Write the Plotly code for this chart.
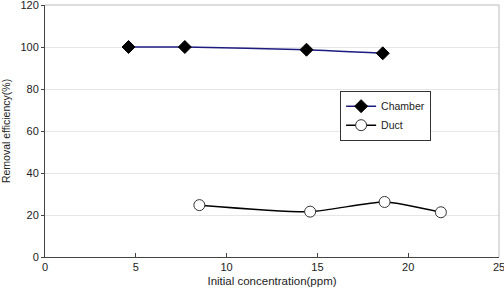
import plotly.graph_objects as go

chamber_x = [4.6, 7.7, 14.4, 18.6]
chamber_y = [100, 100, 98.7, 97.0]
duct_x = [8.5, 14.6, 18.7, 21.8]
duct_y = [24.7, 21.6, 26.2, 21.3]

x_ticks = [0, 5, 10, 15, 20, 25]
y_ticks = [0, 20, 40, 60, 80, 100, 120]

font = "Liberation Sans, Arial, sans-serif"

fig = go.Figure()
fig.add_trace(go.Scatter(
    x=chamber_x, y=chamber_y, name="Chamber", mode="lines+markers",
    line=dict(color="#1c1c80", width=1.5, shape="spline", smoothing=0.6),
    marker=dict(symbol="diamond", size=10, color="black", line=dict(color="black", width=1)),
))
fig.add_trace(go.Scatter(
    x=duct_x, y=duct_y, name="Duct", mode="lines+markers",
    line=dict(color="black", width=1.5, shape="spline", smoothing=0.6),
    marker=dict(symbol="circle", size=11, color="white", line=dict(color="#333333", width=1)),
))

fig.update_layout(
    width=504, height=290,
    margin=dict(l=45, r=5, t=5, b=33, autoexpand=False),
    paper_bgcolor="white", plot_bgcolor="white",
    font=dict(family=font, size=11, color="#222222"),
    showlegend=True,
    legend=dict(
        x=0.65, y=0.66, xanchor="left", yanchor="top",
        bordercolor="#333333", borderwidth=1, bgcolor="white",
        font=dict(size=10.5, family=font),
        itemwidth=30, tracegroupgap=0,
    ),
    xaxis=dict(
        range=[0, 25], tickvals=x_ticks, ticktext=[str(v) for v in x_ticks],
        showgrid=False, zeroline=False, automargin=False,
        showline=True, linecolor="#444444", linewidth=1,
        ticks="inside", ticklen=4, tickcolor="#444444",
        ticklabeloverflow="allow",
        title=dict(text="Initial concentration(ppm)", font=dict(size=11.5), standoff=4),
        tickfont=dict(size=11),
    ),
    yaxis=dict(
        range=[0, 120], tickvals=y_ticks, ticktext=[str(v) for v in y_ticks],
        showgrid=True, gridcolor="#e6e6e6", gridwidth=1, zeroline=False, automargin=False,
        showline=True, linecolor="#444444", linewidth=1,
        ticks="outside", ticklen=3, tickcolor="#444444",
        ticklabeloverflow="allow",
        title=dict(text="Removal efficiency(%)", font=dict(size=10.5), standoff=8),
        tickfont=dict(size=11),
    ),
)

# light border on top and right of plot area
fig.add_shape(type="line", xref="paper", yref="paper", x0=0, x1=1, y0=1, y1=1,
              line=dict(color="#bbbbbb", width=1))
fig.add_shape(type="line", xref="paper", yref="paper", x0=1, x1=1, y0=0, y1=1,
              line=dict(color="#bbbbbb", width=1))

fig.write_html("out.html")
